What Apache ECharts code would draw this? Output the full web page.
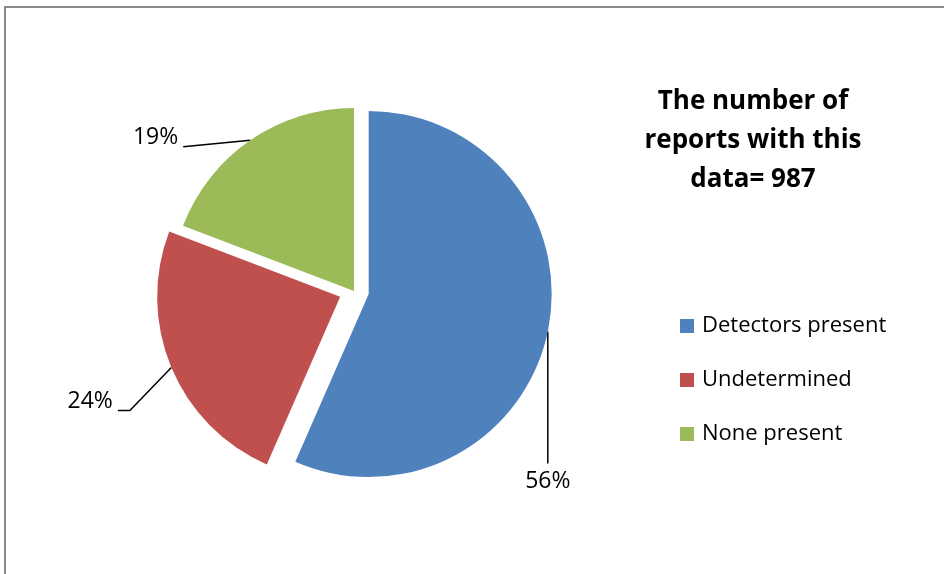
<!DOCTYPE html>
<html>
<head>
<meta charset="utf-8">
<script src="https://cdn.jsdelivr.net/npm/echarts@6/dist/echarts.min.js"></script>
<style>
  html, body { margin: 0; padding: 0; background: #ffffff; }
  #chart { width: 944px; height: 574px; }
</style>
</head>
<body>
<div id="chart"></div>
<script>
// Share of reports by smoke-detector status (percent)
const categories = ['Detectors present', 'Undetermined', 'None present'];
const shares = [56, 24, 19];
const explodedSlices = ['Detectors present', 'Undetermined'];
const titleLines = ['The number of', 'reports with this', 'data= 987'];

const sliceColors = ['#4F81BD', '#C0504D', '#9BBB59'];
const FONT = '"Open Sans", "Noto Sans", sans-serif';
const PIE_CENTER = [354, 291];
const PIE_RADIUS = 183;
const EXPLODE = 15;

// Leader-line shapes for each slice label: bend points relative to the arc point,
// and the text anchor relative to the last bend point
const leaderShapes = [
  { bend: [[0, 132]], text: [0, 18], align: 'center' },
  { bend: [[-41.5, 43], [-53.5, 43]], text: [-5, -9], align: 'right' },
  { bend: [[-67, 6.5]], text: [-5, -9], align: 'right' }
];

const chart = echarts.init(document.getElementById('chart'), null, { renderer: 'canvas' });

const pieData = categories.map((name, i) => ({
  name: name,
  value: shares[i],
  selected: explodedSlices.indexOf(name) >= 0
}));

const option = {
  backgroundColor: '#ffffff',
  animation: false,
  color: sliceColors,
  graphic: [
    {
      type: 'rect',
      shape: { x: 5, y: 7, width: 960, height: 600 },
      style: { fill: 'none', stroke: '#8a8a8a', lineWidth: 2 },
      silent: true
    },
    {
      type: 'text',
      x: 753,
      y: 82,
      silent: true,
      style: {
        text: titleLines.join('\n'),
        align: 'center',
        verticalAlign: 'top',
        font: 'bold 26px ' + FONT,
        lineHeight: 39,
        fill: '#000000'
      }
    }
  ],
  legend: {
    orient: 'vertical',
    left: 680,
    top: 315,
    padding: 0,
    itemWidth: 14,
    itemHeight: 14,
    itemGap: 32,
    icon: 'rect',
    selectedMode: false,
    textStyle: { fontFamily: FONT, fontSize: 22, color: '#000000', padding: [0, 0, 0, 3] },
    data: categories
  },
  series: [
    {
      // The exploded slices
      type: 'pie',
      center: PIE_CENTER,
      radius: PIE_RADIUS,
      startAngle: 90,
      clockwise: true,
      selectedMode: 'multiple',
      selectedOffset: EXPLODE,
      emphasis: { disabled: true },
      label: { show: false },
      labelLine: { show: false },
      data: pieData
    },
    {
      // Percentage labels with leader lines, following each slice's offset
      type: 'pie',
      center: PIE_CENTER,
      radius: PIE_RADIUS,
      startAngle: 90,
      clockwise: true,
      silent: true,
      selectedMode: false,
      avoidLabelOverlap: false,
      emphasis: { disabled: true },
      itemStyle: { color: 'rgba(0,0,0,0)' },
      label: {
        show: true,
        position: 'outside',
        formatter: '{c}%',
        fontFamily: FONT,
        fontSize: 23,
        color: '#000000'
      },
      labelLine: {
        show: true,
        length: 10,
        length2: 10,
        lineStyle: { color: '#000000', width: 1.5 }
      },
      labelLayout: function (p) {
        const s = leaderShapes[p.dataIndex];
        const arc = p.labelLinePoints[0];
        let a = arc;
        if (explodedSlices.indexOf(categories[p.dataIndex]) >= 0) {
          const vx = arc[0] - PIE_CENTER[0];
          const vy = arc[1] - PIE_CENTER[1];
          const len = Math.sqrt(vx * vx + vy * vy) || 1;
          a = [arc[0] + vx / len * EXPLODE, arc[1] + vy / len * EXPLODE];
        }
        const pts = [a].concat(s.bend.map(b => [a[0] + b[0], a[1] + b[1]]));
        const end = pts[pts.length - 1];
        return {
          x: end[0] + s.text[0],
          y: end[1] + s.text[1],
          align: s.align,
          verticalAlign: 'middle',
          labelLinePoints: pts
        };
      },
      data: pieData.map(d => ({ name: d.name, value: d.value }))
    }
  ]
};

chart.setOption(option);
</script>
</body>
</html>
